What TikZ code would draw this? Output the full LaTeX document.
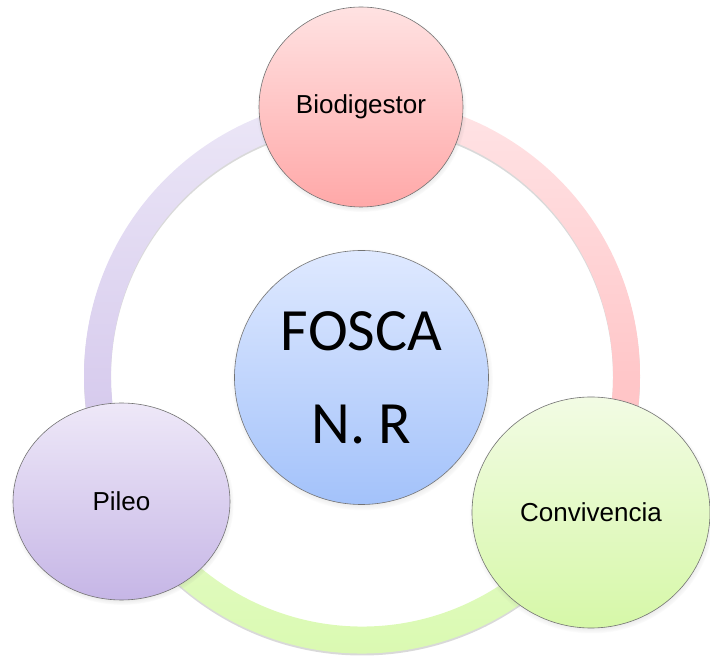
\documentclass[tikz,border=0pt]{standalone}
\usepackage{fontspec}
\usepackage{tikz}
\usetikzlibrary{shapes.geometric,shadows}

\newfontfamily\arialfont{Liberation Sans}
\newfontfamily\calibrifont{Carlito}

\definecolor{biotop}{RGB}{255,226,226}
\definecolor{biobot}{RGB}{255,168,168}
\definecolor{foscatop}{RGB}{223,233,255}
\definecolor{foscabot}{RGB}{163,194,250}
\definecolor{piletop}{RGB}{238,232,248}
\definecolor{pilebot}{RGB}{198,182,230}
\definecolor{convtop}{RGB}{242,251,228}
\definecolor{convbot}{RGB}{214,248,168}
\definecolor{ringpinktop}{RGB}{255,228,230}
\definecolor{ringpinkbot}{RGB}{255,184,186}
\definecolor{ringgreentop}{RGB}{228,251,200}
\definecolor{ringgreenbot}{RGB}{216,249,172}
\definecolor{ringlilactop}{RGB}{236,231,247}
\definecolor{ringlilacbot}{RGB}{208,194,234}

\begin{document}
\begin{tikzpicture}[x=1pt, y=1pt,
    bubble/.style={ellipse, draw=black!55, line width=0.6pt, inner sep=0pt,
      font=\arialfont\fontsize{26}{30}\selectfont,
      circular drop shadow={shadow xshift=0.5pt, shadow yshift=-2pt, shadow scale=1.03, opacity=0.45}}]
    \useasboundingbox (0,0) rectangle (710,656);

    \coordinate (ring) at (362,280.5);

    \fill[black, opacity=0.15, even odd rule] ([yshift=-2pt]ring) circle[radius=278] ([yshift=-2pt]ring) circle[radius=251];
    \shade[top color=ringpinktop, bottom color=ringpinkbot]
      ([shift={(ring)}]90:278) arc[start angle=90, end angle=-31, radius=278]
      -- ([shift={(ring)}]-31:251) arc[start angle=-31, end angle=90, radius=251] -- cycle;
    \shade[top color=ringgreentop, bottom color=ringgreenbot]
      ([shift={(ring)}]-31:278) arc[start angle=-31, end angle=-152, radius=278]
      -- ([shift={(ring)}]-152:251) arc[start angle=-152, end angle=-31, radius=251] -- cycle;
    \shade[top color=ringlilactop, bottom color=ringlilacbot]
      ([shift={(ring)}]90:278) arc[start angle=90, end angle=208, radius=278]
      -- ([shift={(ring)}]208:251) arc[start angle=208, end angle=90, radius=251] -- cycle;

    \node[bubble, minimum width=254pt, minimum height=254pt, top color=foscatop, bottom color=foscabot,
      font=\calibrifont\fontsize{60}{93}\selectfont, align=center] (fosca) at (361.5,278.5) {FOSCA\\N. R};
    \node[bubble, minimum width=204pt, minimum height=200pt, top color=biotop, bottom color=biobot] (bio) at (361,549) {Biodigestor};
    \node[bubble, minimum width=217pt, minimum height=197pt, top color=piletop, bottom color=pilebot] (pileo) at (121.5,154.5) {Pileo};
    \node[bubble, minimum width=238pt, minimum height=231pt, top color=convtop, bottom color=convbot] (conv) at (591,143.5) {Convivencia};
\end{tikzpicture}
\end{document}
